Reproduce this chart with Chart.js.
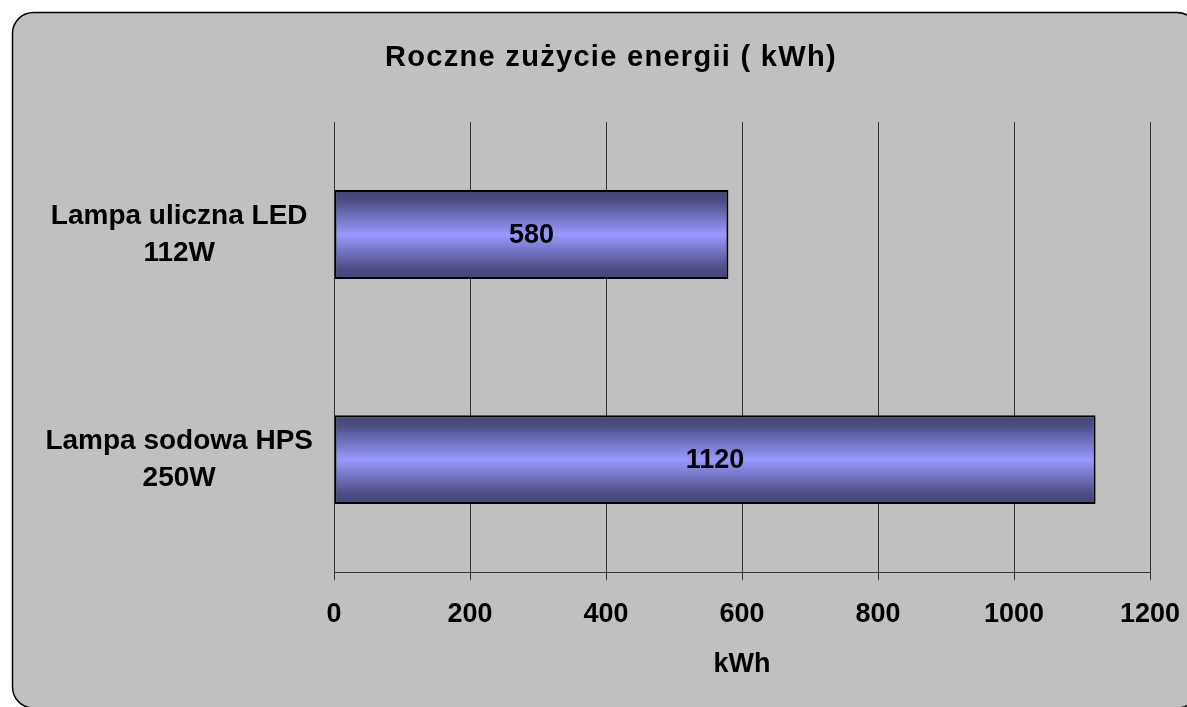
<!DOCTYPE html>
<html>
<head>
<meta charset="utf-8">
<script src="https://cdn.jsdelivr.net/npm/chart.js@4"></script>
<style>
  html, body { margin: 0; padding: 0; background: #fff; overflow: hidden; }
  #wrap { position: relative; width: 1187px; height: 707px; }
</style>
</head>
<body>
<div id="wrap"><canvas id="energyChart"></canvas></div>
<script>
// Roczne zuzycie energii
var chartTitle = 'Roczne zużycie energii ( kWh)';
var categories = [['Lampa uliczna LED', '112W'], ['Lampa sodowa HPS', '250W']];
var energyValues = [580, 1120];
var xTicks = [0, 200, 400, 600, 800, 1000, 1200];

var FONT = "'Liberation Sans', Arial, sans-serif";
var BAR_PCT = 0.395;

// grey rounded frame behind the chart, and the title centred on it
var framePlugin = {
    id: 'frame',
    beforeDraw: function(chart) {
        var c = chart.ctx;
        var x = 12.5, y = 12.5, w = 1198 - 12.5, h = 708 - 12.5, r = 21;
        c.save();
        c.beginPath();
        c.moveTo(x + r, y);
        c.lineTo(x + w - r, y);
        c.arcTo(x + w, y, x + w, y + r, r);
        c.lineTo(x + w, y + h - r);
        c.arcTo(x + w, y + h, x + w - r, y + h, r);
        c.lineTo(x + r, y + h);
        c.arcTo(x, y + h, x, y + h - r, r);
        c.lineTo(x, y + r);
        c.arcTo(x, y, x + r, y, r);
        c.closePath();
        c.fillStyle = '#c0c0c0';
        c.fill();
        c.lineWidth = 1.5;
        c.strokeStyle = '#000';
        c.stroke();

        c.font = 'bold 29px ' + FONT;
        c.letterSpacing = '1.3px';
        c.fillStyle = '#000';
        c.textAlign = 'center';
        c.textBaseline = 'middle';
        c.fillText(chartTitle, 611, 58);
        c.restore();
    }
};

// value written in the middle of every bar
var valueLabels = {
    id: 'valueLabels',
    afterDatasetsDraw: function(chart) {
        var c = chart.ctx;
        var meta = chart.getDatasetMeta(0);
        c.save();
        c.font = 'bold 27px ' + FONT;
        c.fillStyle = '#000';
        c.textAlign = 'center';
        c.textBaseline = 'middle';
        meta.data.forEach(function(bar, i) {
            c.fillText(String(energyValues[i]), (bar.x + bar.base) / 2, bar.y + 1);
        });
        c.restore();
    }
};

function barGradient(context) {
    var chart = context.chart;
    var area = chart.chartArea;
    if (!area) return '#9999ff';
    var yScale = chart.scales.y;
    var cy = yScale.getPixelForValue(context.dataIndex);
    var half = (area.bottom - area.top) / categories.length * BAR_PCT / 2;
    var g = chart.ctx.createLinearGradient(0, cy - half, 0, cy + half);
    g.addColorStop(0, '#434375');
    g.addColorStop(0.12, '#4d4d86');
    g.addColorStop(0.5, '#9999ff');
    g.addColorStop(0.88, '#4d4d86');
    g.addColorStop(1, '#434375');
    return g;
}

var ctx = document.getElementById('energyChart').getContext('2d');
var energyChart = new Chart(ctx, {
    type: 'bar',
    data: {
        labels: categories,
        datasets: [{
            label: chartTitle,
            data: energyValues,
            backgroundColor: barGradient,
            borderColor: '#000',
            borderWidth: 2,
            borderSkipped: false,
            barPercentage: BAR_PCT,
            categoryPercentage: 1
        }]
    },
    options: {
        indexAxis: 'y',
        responsive: true,
        maintainAspectRatio: false,
        animation: false,
        layout: { padding: { left: 0, right: 37, top: 122, bottom: 0 } },
        plugins: {
            legend: { display: false },
            tooltip: { enabled: false },
            title: { display: false }
        },
        scales: {
            x: {
                min: xTicks[0],
                max: xTicks[xTicks.length - 1],
                ticks: {
                    stepSize: xTicks[1] - xTicks[0],
                    color: '#000',
                    padding: 18,
                    font: { family: FONT, size: 27, weight: 'bold' },
                    callback: function(v) { return String(v); }
                },
                grid: { color: '#333', lineWidth: 1, tickLength: 8, tickColor: '#333' },
                border: { color: '#333', width: 1 },
                title: {
                    display: true,
                    text: 'kWh',
                    color: '#000',
                    font: { family: FONT, size: 27, weight: 'bold' },
                    padding: { top: 0, bottom: 26 }
                },
                afterFit: function(scale) { scale.paddingRight = 0; scale.paddingLeft = 0; }
            },
            y: {
                grid: { display: false },
                border: { display: false },
                ticks: {
                    color: '#000',
                    crossAlign: 'center',
                    padding: 13,
                    font: { family: FONT, size: 28, weight: 'bold', lineHeight: 1.32 }
                },
                afterFit: function(scale) { scale.width = 334; }
            }
        }
    },
    plugins: [framePlugin, valueLabels]
});
</script>
</body>
</html>
